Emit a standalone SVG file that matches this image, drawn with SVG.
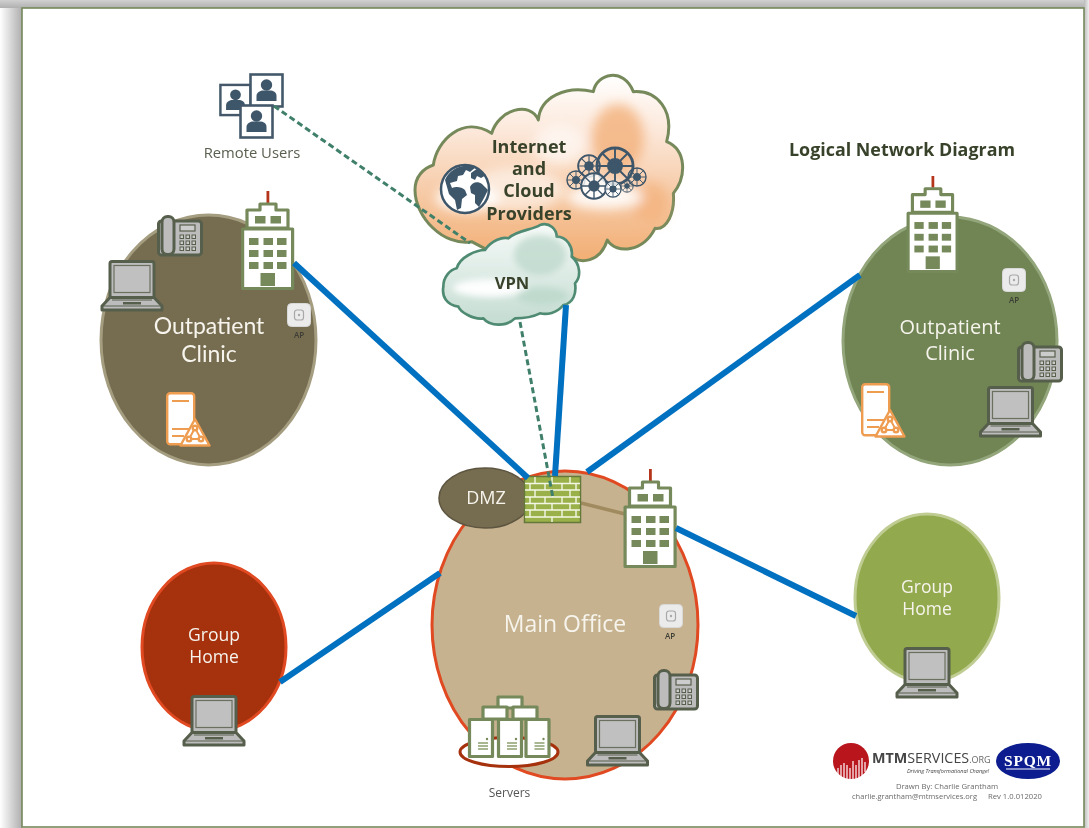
<svg xmlns="http://www.w3.org/2000/svg" width="1089" height="828" viewBox="0 0 1089 828">
<style>
text{font-family:"Open Sans","Noto Sans","Liberation Sans",sans-serif}
.lbl{text-anchor:middle;fill:#f6f4ec}
.bold{font-weight:700;text-anchor:middle;fill:#39432a}
.small{fill:#6a6a6a;font-size:7.7px}
.ap{fill:#3c3c34;font-size:8px;font-weight:600;text-anchor:middle}
.link{fill:none;stroke:#0070c0;stroke-width:6}
.dash{fill:none;stroke:#40806a;stroke-width:3;stroke-dasharray:6 3.5}
.wf{fill:#fff;stroke:#76895a;stroke-width:3.2;stroke-linejoin:round}
.win{fill:#76895a}
.gr{fill:#bcbcbc;stroke:#575e4c;stroke-width:3;stroke-linejoin:round}
.frame{fill:#fff;stroke:#44596b;stroke-width:2.6}
.dk{fill:#3e566a}
.wh{fill:none;stroke:#3e566a}
.or{fill:#fff;stroke:#ee9c50;stroke-width:2.4}
.orl{stroke:#ee9c50;stroke-width:2;fill:none}
.mort{stroke:#f4f7e6;stroke-width:1.4;fill:none}
</style>
<defs>
<linearGradient id="shL" x1="0" x2="1" y1="0" y2="0"><stop offset="0" stop-color="#fff"/><stop offset="1" stop-color="#aeaeae"/></linearGradient>
<linearGradient id="shT" x1="0" x2="0" y1="0" y2="1"><stop offset="0" stop-color="#d0d0d0"/><stop offset="1" stop-color="#b0b0b0"/></linearGradient>
<linearGradient id="shR" x1="0" x2="1" y1="0" y2="0"><stop offset="0" stop-color="#bbb"/><stop offset="1" stop-color="#eee"/></linearGradient>
<linearGradient id="cl" x1="0" x2="0" y1="0" y2="1"><stop offset="0" stop-color="#fff"/><stop offset=".3" stop-color="#fce8da"/><stop offset=".65" stop-color="#f6c9a4"/><stop offset="1" stop-color="#f2ae74"/></linearGradient>
<linearGradient id="vp" x1="0" x2="0" y1="0" y2="1"><stop offset="0" stop-color="#f6faf8"/><stop offset="1" stop-color="#c4dcd2"/></linearGradient>
<filter id="soft" filterUnits="userSpaceOnUse" x="0" y="0" width="1089" height="828"><feGaussianBlur stdDeviation=".45"/></filter>
<filter id="b6" x="-30%" y="-30%" width="160%" height="160%"><feGaussianBlur stdDeviation="6"/></filter>
<filter id="b3" x="-30%" y="-30%" width="160%" height="160%"><feGaussianBlur stdDeviation="3"/></filter>

<symbol id="bldg" viewBox="0 0 53 99" overflow="visible">
<rect x="25.500" y="0" width="2.800" height="12" fill="#b5341a"/>
<path class="wf" d="M19 19V13H35V19H47V37H6V19Z"/>
<rect x="21" y="15" width="12" height="4" fill="#fff"/>
<rect class="wf" x="1.600" y="38" width="50" height="59.500"/>
<rect class="win" x="14" y="25" width="10.500" height="7.500"/><rect class="win" x="29.500" y="25" width="10.500" height="7.500"/>
<g class="win"><rect x="8" y="47" width="9.500" height="7"/><rect x="22.500" y="47" width="9.500" height="7"/><rect x="36" y="47" width="9.500" height="7"/>
<rect x="8" y="59" width="9.500" height="7"/><rect x="22.500" y="59" width="9.500" height="7"/><rect x="36" y="59" width="9.500" height="7"/>
<rect x="8" y="71" width="9.500" height="7"/><rect x="22.500" y="71" width="9.500" height="7"/><rect x="36" y="71" width="9.500" height="7"/>
<rect x="19.500" y="82" width="14.500" height="13"/></g>
</symbol>

<symbol id="laptop" viewBox="0 0 62 52" overflow="visible">
<rect class="gr" x="9" y="1.500" width="44" height="36" rx="2"/>
<rect x="13" y="5.500" width="36" height="27" fill="#c0c0c0" stroke="#6a7060" stroke-width="1.200"/>
<path class="gr" d="M9 37.500H53L61 46V50H1V46Z"/>
<path d="M2 46H60M11 40H51" stroke="#575e4c" stroke-width="1.200" fill="none"/>
<rect x="22" y="42" width="18" height="2.500" fill="#575e4c"/>
</symbol>

<symbol id="phone" viewBox="0 0 46 42" overflow="visible">
<rect class="gr" x="1.500" y="6" width="43" height="34" rx="3"/>
<rect class="gr" x="5" y="1.500" width="12" height="38" rx="5.500"/>
<rect x="23" y="10" width="15" height="6" fill="#ccc" stroke="#575e4c" stroke-width="1.200"/>
<g fill="#ccc" stroke="#575e4c" stroke-width="1"><rect x="23" y="20" width="3.500" height="3.500"/><rect x="29" y="20" width="3.500" height="3.500"/><rect x="35" y="20" width="3.500" height="3.500"/>
<rect x="23" y="26" width="3.500" height="3.500"/><rect x="29" y="26" width="3.500" height="3.500"/><rect x="35" y="26" width="3.500" height="3.500"/>
<rect x="23" y="32" width="3.500" height="3.500"/><rect x="29" y="32" width="3.500" height="3.500"/><rect x="35" y="32" width="3.500" height="3.500"/></g>
</symbol>

<symbol id="apd" viewBox="0 0 24 24" overflow="visible">
<rect x=".5" y=".5" width="23" height="23" rx="4" fill="#ebebeb" stroke="#d8d8d8"/>
<rect x="7.500" y="7" width="9" height="10" rx="2.500" fill="none" stroke="#a8a8a8" stroke-width="1.200"/>
<circle cx="12" cy="12" r="1.200" fill="#a8a8a8"/>
</symbol>

<symbol id="warn" viewBox="0 0 45 55" overflow="visible">
<rect class="or" x="1.200" y="1.200" width="27" height="51" rx="3"/>
<path class="orl" d="M6 9H23M6 37H23M6 44H18"/>
<path class="or" d="M29 27L43.500 53.500H14.500Z" stroke-linejoin="round"/>
<path class="orl" d="M29 36L23 47H35Z"/>
<circle class="or" cx="29" cy="36" r="2.300" stroke-width="1.800"/><circle class="or" cx="23" cy="47" r="2.300" stroke-width="1.800"/><circle class="or" cx="35" cy="47" r="2.300" stroke-width="1.800"/>
</symbol>

<symbol id="tower" viewBox="0 0 26 40" overflow="visible">
<rect class="wf" x="1.500" y="1.500" width="23" height="37"/>
<circle cx="19" cy="21" r="1.200" fill="#76895a"/>
<path d="M10 25H20M10 28H20M10 31H20" stroke="#8fa070" stroke-width="1.300"/>
</symbol>

<symbol id="user" viewBox="0 0 35 35" overflow="visible">
<rect class="frame" x="1.500" y="1.500" width="32" height="32"/>
<circle class="dk" cx="17.500" cy="12" r="5.700"/>
<path class="dk" d="M7.500 28V23C7.500 19 12 17.500 14 17.500H21C24 17.500 27.500 19 27.500 23V28Z"/>
</symbol>

<g id="wheel"><circle class="wh" r="9.500" stroke-width="1.500"/><circle r="4.200" class="dk"/>
<path class="wh" stroke-width="1" d="M0-9.500V9.500M-9.500 0H9.500M-6.700-6.700L6.700 6.700M-6.700 6.700L6.700-6.700"/></g>
</defs>

<g filter="url(#soft)">
<g id="page">
<rect x="0" y="0" width="22" height="828" fill="url(#shL)"/>
<rect x="0" y="0" width="1089" height="8" fill="url(#shT)"/>
<rect x="1084" y="0" width="5" height="828" fill="url(#shR)"/>
<rect x="22" y="8" width="1062" height="819" fill="#fff" stroke="#76895a" stroke-width="1.600"/>
</g>

<g id="clinic-left">
<ellipse cx="208.500" cy="340" rx="107.500" ry="125" fill="#766c50" stroke="#a59d80" stroke-width="3"/>
<text class="lbl" font-size="23" x="209" y="334" style="font-family:Lato,'Open Sans',sans-serif"><tspan x="209">Outpatient</tspan><tspan x="209" dy="28">Clinic</tspan></text>
<use href="#bldg" x="241" y="191" width="53" height="99"/>
<use href="#laptop" x="101" y="260" width="62" height="52"/>
<use href="#phone" x="157" y="215" width="46" height="42"/>
<use href="#apd" x="287" y="303" width="24" height="24"/>
<text class="ap" x="299" y="338">AP</text>
<use href="#warn" x="166" y="392" width="45" height="55"/>
</g>

<g id="clinic-right">
<ellipse cx="950" cy="341" rx="107" ry="124" fill="#6f8553" stroke="#93a57a" stroke-width="3"/>
<text class="lbl" font-size="20" x="950" y="334"><tspan x="950">Outpatient</tspan><tspan x="950" dy="26">Clinic</tspan></text>
<use href="#bldg" x="906" y="176" width="53" height="97"/>
<use href="#apd" x="1002" y="268" width="24" height="24"/>
<text class="ap" x="1014" y="303">AP</text>
<use href="#phone" x="1017" y="341" width="46" height="42"/>
<use href="#laptop" x="979" y="386" width="63" height="52"/>
<use href="#warn" x="861" y="383" width="45" height="55"/>
</g>

<g id="group-home-left">
<ellipse cx="214" cy="647" rx="72" ry="84" fill="#a5300f" stroke="#e04a20" stroke-width="3"/>
<text class="lbl" font-size="17.500" x="214" y="641"><tspan x="214">Group</tspan><tspan x="214" dy="22">Home</tspan></text>
<use href="#laptop" x="183" y="695" width="62" height="52"/>
</g>

<g id="group-home-right">
<ellipse cx="927" cy="598" rx="72" ry="84" fill="#93a94e" stroke="#bfcc92" stroke-width="3"/>
<text class="lbl" font-size="17.500" x="927" y="593"><tspan x="927">Group</tspan><tspan x="927" dy="22">Home</tspan></text>
<use href="#laptop" x="896" y="647" width="62" height="52"/>
</g>

<g id="main-office">
<ellipse cx="565" cy="625" rx="133" ry="154" fill="#c6b28e" stroke="#e04a20" stroke-width="3"/>
<text class="lbl" font-size="23" x="565" y="632">Main Office</text>
<use href="#apd" x="659" y="604" width="24" height="24"/>
<text class="ap" x="670" y="639">AP</text>
<use href="#phone" x="653" y="669" width="46" height="42"/>
<use href="#laptop" x="586" y="715" width="63" height="52"/>
<path d="M581 503L625 514" stroke="#a08a5e" stroke-width="3.500"/>
<use href="#bldg" x="623" y="469" width="54" height="99"/>
</g>

<g id="dmz">
<ellipse cx="485" cy="498" rx="46" ry="30" fill="#766c50" stroke="#5d5540" stroke-width="1.500"/>
<text class="lbl" font-size="18" x="486" y="504">DMZ</text>
</g>

<g id="firewall">
<rect x="524.500" y="476.500" width="56" height="46" fill="#9ab04a" stroke="#65783a" stroke-width="1.500"/>
<path class="mort" d="M525 483.500H580M525 490H580M525 497H580M525 503.500H580M525 510H580M525 517H580"/>
<path class="mort" d="M535 477V483.500M552 477V483.500M570 477V483.500M530 483.500V490M545 483.500V490M562 483.500V490M576 483.500V490M535 490V497M552 490V497M570 490V497M530 497V503.500M545 497V503.500M562 497V503.500M576 497V503.500M535 503.500V510M552 503.500V510M570 503.500V510M530 510V517M545 510V517M562 510V517M576 510V517M552 517V522"/>
</g>

<g id="servers">
<ellipse cx="509" cy="752" rx="49" ry="14.500" fill="#fff" stroke="#a5300f" stroke-width="3"/>
<rect class="wf" x="498" y="697" width="24" height="11"/>
<rect class="wf" x="483" y="707" width="24" height="12"/>
<rect class="wf" x="513" y="707" width="24" height="12"/>
<use href="#tower" x="468" y="718" width="26" height="40"/>
<use href="#tower" x="497" y="718" width="26" height="40"/>
<use href="#tower" x="524.500" y="718" width="26" height="40"/>
<text font-size="12" fill="#555" text-anchor="middle" x="509.500" y="797">Servers</text>
</g>

<g id="internet-cloud">
<path transform="translate(400 60) scale(.33333)" d="M45 390C45 350 70 325 100 315C110 240 190 165 275 220C295 150 390 120 415 180C420 110 500 75 580 95C590 40 670 20 700 95C770 90 825 150 800 245C860 270 860 350 820 400C825 460 800 510 765 505C730 575 650 585 622 540C600 610 540 610 515 590L300 590L215 545C130 560 45 470 45 390Z" fill="url(#cl)" stroke="#76895a" stroke-width="9" stroke-linejoin="round"/>
<g filter="url(#b6)">
<ellipse cx="618" cy="138" rx="26" ry="34" fill="#f3b07a" opacity=".8"/>
<ellipse cx="650" cy="202" rx="18" ry="20" fill="#f3b07a" opacity=".7"/>
<ellipse cx="560" cy="145" rx="26" ry="20" fill="#fff" opacity=".6"/>
<ellipse cx="515" cy="190" rx="50" ry="22" fill="#fff" opacity=".55"/>
<ellipse cx="468" cy="198" rx="32" ry="13" fill="#fff" opacity=".95"/>
<ellipse cx="605" cy="197" rx="38" ry="12" fill="#fff" opacity=".9"/>
</g>
<g id="globe">
<circle cx="465" cy="189" r="24" fill="#fff" stroke="#3e566a" stroke-width="2.500"/>
<path class="dk" d="M445 180C450 168 463 163 476 167L470 172L466 170L463 175L458 176L457 181L450 183L452 188C456 186 462 187 465 190L467 195L462 199L461 208L457 210L455 200L449 194ZM471 173L478 168L486 175L481 178L477 176L475 180L471 178ZM470 187C472 182 478 181 482 184L488 190L484 198L479 207L475 203L475 195L471 193Z"/>
</g>
<g id="gears">
<use href="#wheel" transform="translate(615 166) scale(1.900)"/>
<use href="#wheel" transform="translate(589 166) scale(1.150)"/>
<use href="#wheel" transform="translate(576 180) scale(.95)"/>
<circle cx="594" cy="186" r="13" fill="#fff" opacity=".8"/>
<use href="#wheel" transform="translate(594 186) scale(1.350)"/>
<circle cx="613" cy="189" r="8" fill="#fff" opacity=".8"/>
<use href="#wheel" transform="translate(613 189) scale(.85)"/>
<use href="#wheel" transform="translate(627 186) scale(.65)"/>
<use href="#wheel" transform="translate(637 177) scale(.95)"/>
</g>
<text class="bold" font-size="18" x="529" y="153"><tspan x="529">Internet</tspan><tspan x="529" dy="22">and</tspan><tspan x="529" dy="22">Cloud</tspan><tspan x="529" dy="23">Providers</tspan></text>
</g>

<g id="vpn-cloud">
<path transform="translate(400 60) scale(.33333)" d="M130 680C130 650 150 630 170 625C180 590 230 570 255 570C275 540 310 530 325 535C350 510 400 510 420 495C450 485 470 510 470 530C500 530 520 560 515 590C540 610 545 650 525 670C530 700 520 730 490 735C470 760 440 765 420 760C400 770 370 775 345 775C320 800 270 800 250 775C220 780 180 755 175 740C140 735 125 710 130 680Z" fill="url(#vp)" stroke="#4f8a72" stroke-width="8" stroke-linejoin="round"/>
<g filter="url(#b3)">
<ellipse cx="540" cy="255" rx="26" ry="20" fill="#b9d6c9" opacity=".7"/>
<ellipse cx="490" cy="288" rx="37" ry="9" fill="#fff" opacity=".95"/>
<ellipse cx="542" cy="296" rx="26" ry="9" fill="#bcd8cb" opacity=".8"/>
</g>
<text class="bold" font-size="16.500" x="512" y="289">VPN</text>
</g>

<g id="remote-users">
<use href="#user" x="219" y="83" width="33" height="34"/>
<use href="#user" x="249" y="73" width="35" height="35"/>
<use href="#user" x="239" y="104" width="35" height="35"/>
<text font-size="14.800" fill="#5a6050" text-anchor="middle" x="252" y="158">Remote Users</text>
</g>

<g id="connectors">
<path class="link" d="M294 263L528 478"/>
<path class="link" d="M566 305L555 476"/>
<path class="link" d="M860 275L587 472"/>
<path class="link" d="M280 682L440 573"/>
<path class="link" d="M676 528L856 616"/>
<path class="dash" d="M274 106L470 243"/>
<path class="dash" d="M520 322L553 498"/>
</g>

<g id="title"><text font-size="18" font-weight="700" fill="#39432a" x="789" y="156" textLength="226" lengthAdjust="spacingAndGlyphs">Logical Network Diagram</text></g>

<g id="logos">
<circle cx="851" cy="761" r="18" fill="#b8141c"/>
<path d="M838 777V768M841 778V765M844 778V763M847 779V765M850 779V768M853 779V761M856 779V765M859 778V760M862 777V758M865 772V762" stroke="#fff" stroke-width="1.200"/>
<text font-size="14.300" fill="#444" x="872" y="763"><tspan font-weight="700">MTM</tspan>SERVICES<tspan font-size="9" fill="#666">.ORG</tspan></text>
<text font-size="5.500" font-style="italic" fill="#444" text-anchor="middle" x="948" y="772.500">Driving Transformational Change!</text>
<ellipse cx="1028" cy="761" rx="32" ry="18" fill="#0d1f8e"/>
<text font-size="15.500" font-weight="700" fill="#fff" text-anchor="middle" x="1028" y="765.500" letter-spacing=".8" style="font-family:'Liberation Serif',serif">SPQM</text>
<path d="M1006 769H1050" stroke="#fff" stroke-width="1"/>
<text class="small" text-anchor="middle" x="947" y="789">Drawn By: Charlie Grantham</text>
<text class="small" x="852" y="799" textLength="125" lengthAdjust="spacingAndGlyphs">charlie.grantham@mtmservices.org</text>
<text class="small" x="988" y="799" textLength="54" lengthAdjust="spacingAndGlyphs">Rev 1.0.012020</text>
</g>
</g>
</svg>
